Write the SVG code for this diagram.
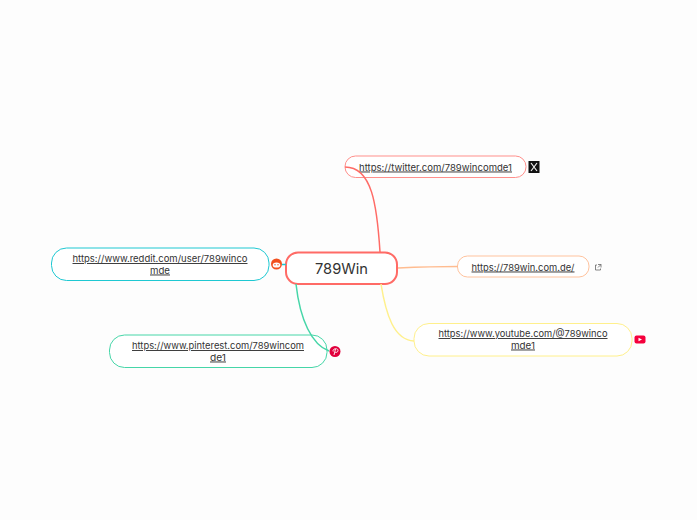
<svg xmlns="http://www.w3.org/2000/svg" width="697" height="520" viewBox="0 0 697 520">
<style>
text{font-family:"Inter","Noto Sans","Liberation Sans",sans-serif;fill:#333;text-anchor:middle}
.l{font-size:9.400px;text-decoration:underline}
.n{fill:#fff;stroke-width:1}
.c{fill:none;stroke-width:1.500}
</style>
<rect width="697" height="520" fill="#fdfdfd"/>
<g id="node-center">
<rect x="286" y="252.500" width="111" height="31.500" rx="12" fill="#fff" stroke="#ff6b66" stroke-width="2"/>
<text x="341.500" y="273.500" font-size="14.500" textLength="53" lengthAdjust="spacingAndGlyphs">789Win</text>
</g>
<g id="node-twitter">
<rect class="n" x="345" y="156" width="181" height="21.500" rx="10.500" stroke="#ff8f8b"/>
<text class="l" x="435.500" y="170.500" textLength="153" lengthAdjust="spacingAndGlyphs">https://twitter.com/789wincomde1</text>
<rect x="528.500" y="161" width="11" height="12" fill="#111"/>
<path d="M531 163L537 171M537 163L531 171" stroke="#eee" stroke-width="1.200" fill="none"/>
</g>
<g id="node-website">
<rect class="n" x="457.500" y="256" width="131.500" height="21" rx="10" stroke="#ffc39e"/>
<text class="l" x="523" y="270.500" textLength="103" lengthAdjust="spacingAndGlyphs">https://789win.com.de/</text>
<path d="M597 265H595.500V270H600.500V268.500M598 264.500H601V267.500M601 264.500L598 267.500" fill="none" stroke="#666" stroke-width=".8"/>
</g>
<g id="node-youtube">
<rect class="n" x="414" y="323.500" width="218" height="32.500" rx="15" stroke="#fff08c"/>
<text class="l" x="523" y="337" textLength="169" lengthAdjust="spacingAndGlyphs">https://www.youtube.com/@789winco</text>
<text class="l" x="523" y="348.500" textLength="24" lengthAdjust="spacingAndGlyphs">mde1</text>
<rect x="634.500" y="335.500" width="11" height="8" rx="2" fill="#f5003c"/>
<path d="M638.500 337.800L642 339.500L638.500 341.200Z" fill="#fff"/>
</g>
<g id="node-reddit">
<rect class="n" x="51.500" y="248" width="217.500" height="32.500" rx="15" stroke="#1ec8d2"/>
<text class="l" x="160" y="262" textLength="175" lengthAdjust="spacingAndGlyphs">https://www.reddit.com/user/789winco</text>
<text class="l" x="160" y="273.500" textLength="20" lengthAdjust="spacingAndGlyphs">mde</text>
<circle cx="276.500" cy="264" r="5.500" fill="#f2501e"/>
<ellipse cx="276.500" cy="265" rx="3.800" ry="2.600" fill="#fff"/>
<circle cx="275" cy="264.800" r=".7" fill="#f2501e"/>
<circle cx="278" cy="264.800" r=".7" fill="#f2501e"/>
</g>
<g id="node-pinterest">
<rect class="n" x="109.500" y="335" width="217.500" height="32.500" rx="15" stroke="#46d6a8"/>
<text class="l" x="218" y="349" textLength="172" lengthAdjust="spacingAndGlyphs">https://www.pinterest.com/789wincom</text>
<text class="l" x="218" y="360.500" textLength="16" lengthAdjust="spacingAndGlyphs">de1</text>
</g>
<g id="connectors">
<path class="c" d="M380 252C377 205 372 167 345 167" stroke="#ff6b66"/>
<path class="c" d="M398 268C420 267 435 266.500 458 266.500" stroke="#ffbc90"/>
<path class="c" d="M381 284C386 315 394 340 414 341" stroke="#fff08c"/>
<path class="c" d="M296 284C300 320 312 345 329 351" stroke="#46d6a8"/>
<path class="c" d="M282 264.500L286 264.500" stroke="#1ec8d2"/>
</g>
<g id="icon-pinterest">
<circle cx="335" cy="351.500" r="5.500" fill="#e1003c"/>
<path d="M334 355L335.500 349M333.200 351.500C332 348.500 338 347.500 338 350.500C338 352.500 335.500 352.800 335 352" fill="none" stroke="#fff" stroke-width=".9"/>
</g>
</svg>
